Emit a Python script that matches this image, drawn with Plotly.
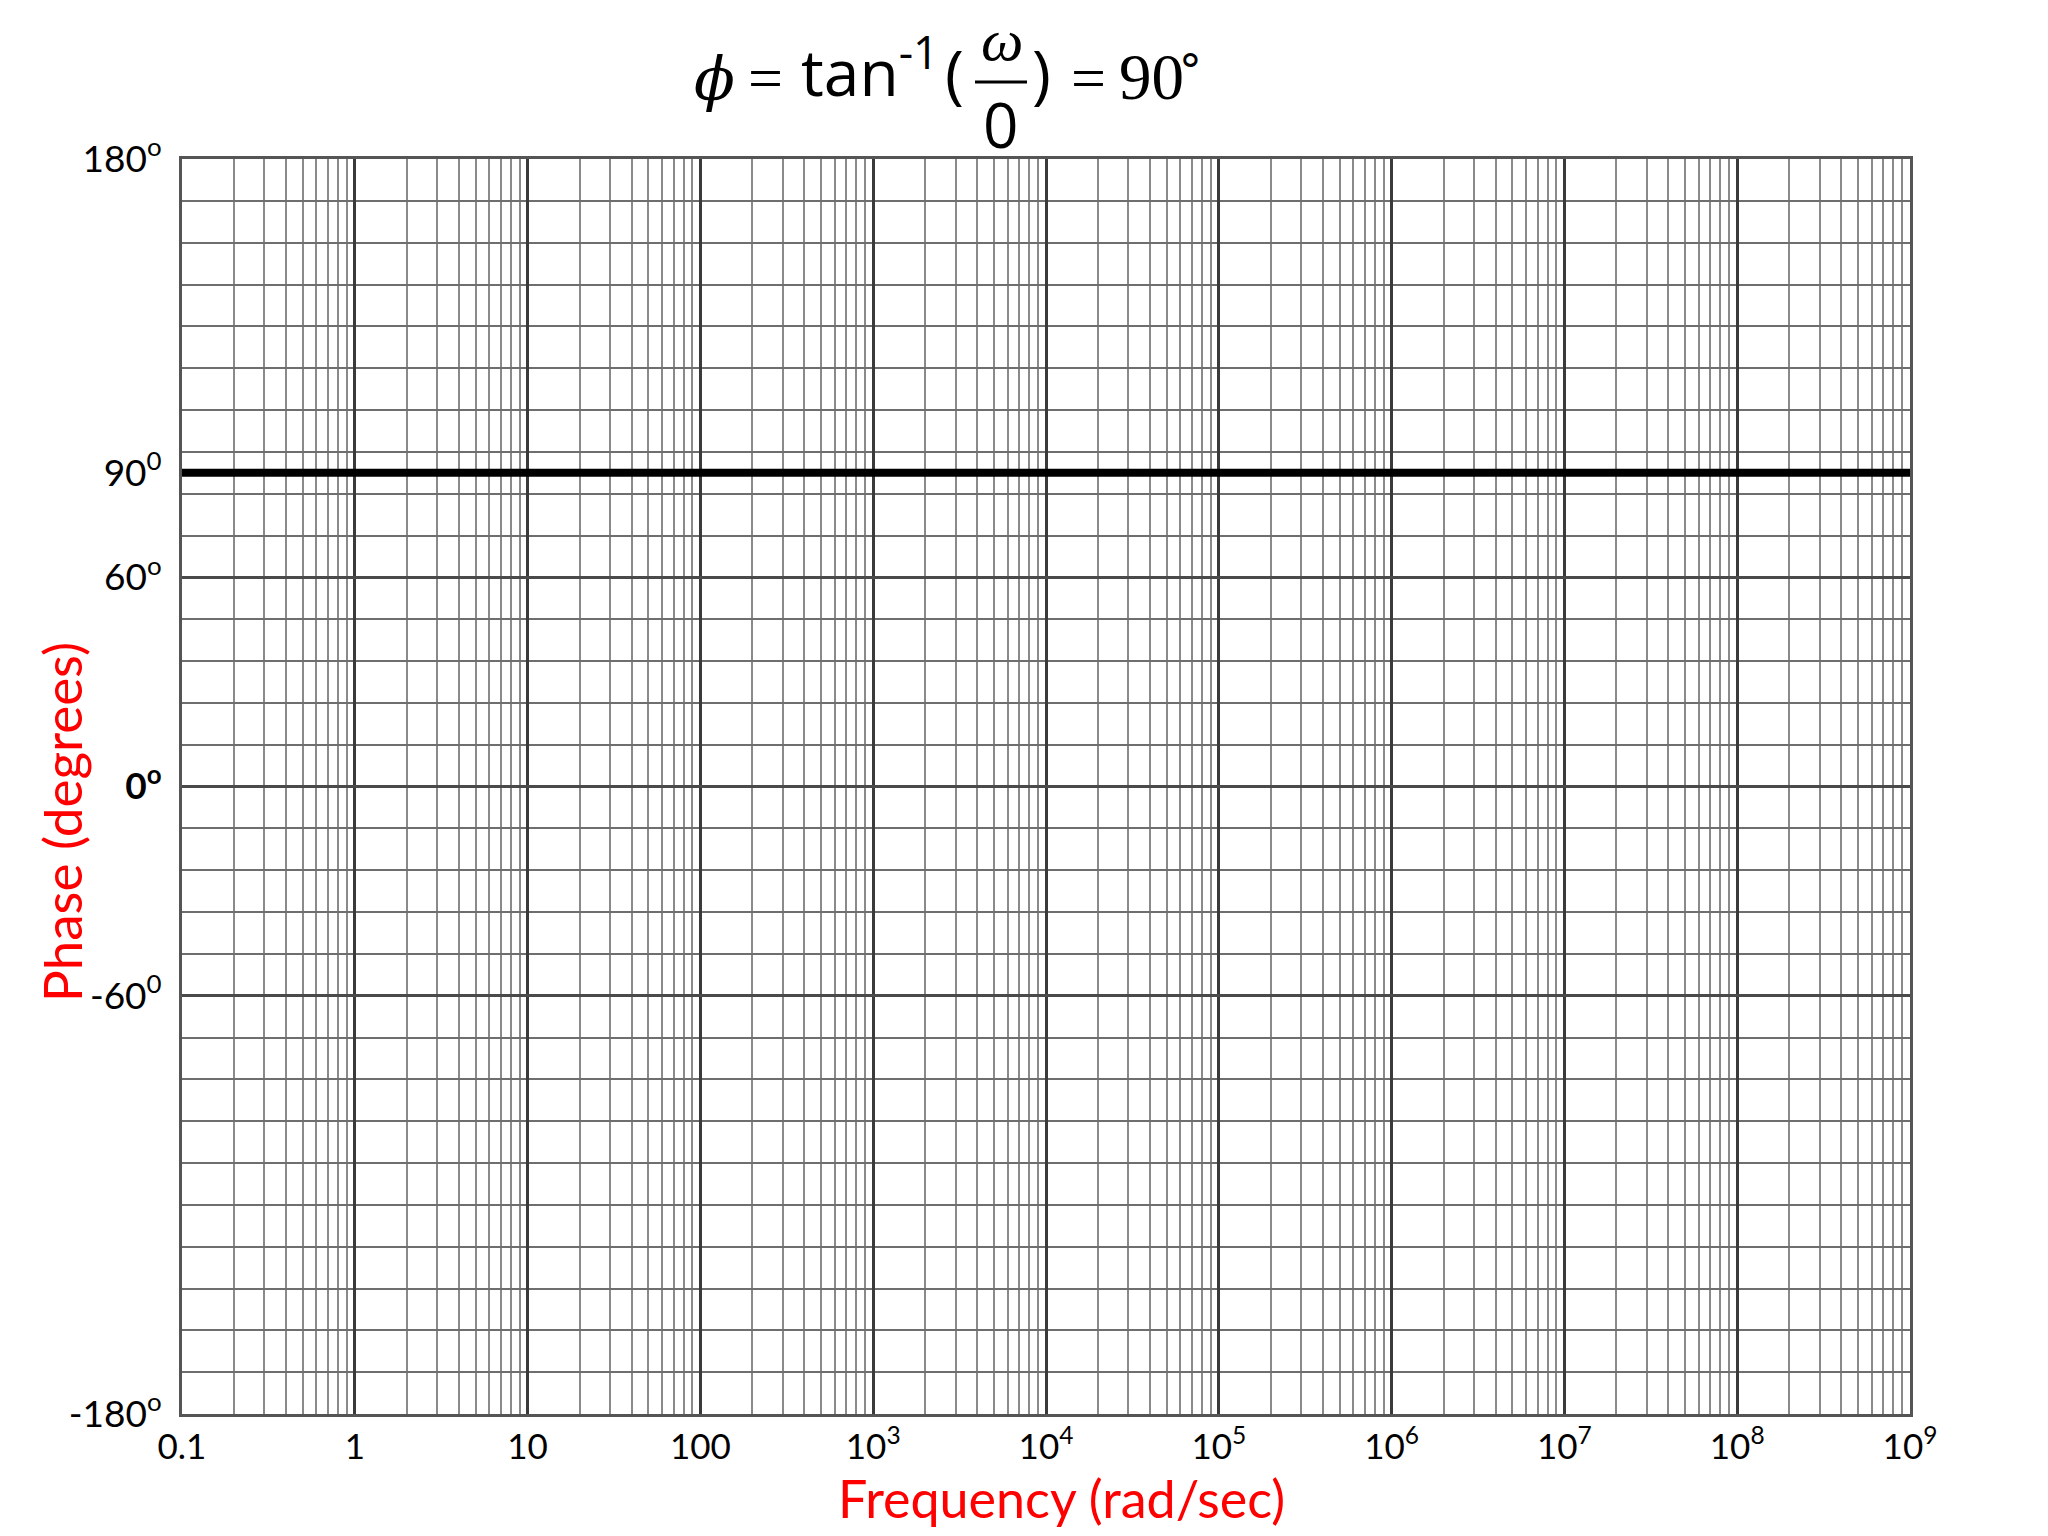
import plotly.graph_objects as go

# ---- data ----
x_tick_vals = [0.1, 1, 10, 100, 1e3, 1e4, 1e5, 1e6, 1e7, 1e8, 1e9]
x_tick_text = ["0.1", "1", "10", "100", "10<sup>3</sup>", "10<sup>4</sup>", "10<sup>5</sup>",
               "10<sup>6</sup>", "10<sup>7</sup>", "10<sup>8</sup>", "10<sup>9</sup>"]
y_tick_vals = [180, 90, 60, 0, -60, -180]
y_tick_text = ["180<sup>o</sup>", "90<sup>0</sup>", "60<sup>o</sup>", "<b>0<sup>o</sup></b>",
               "-60<sup>0</sup>", "-180<sup>o</sup>"]
phase_freq = [0.1, 1e9]
phase_deg = [90, 90]
minor_multipliers = [2, 3, 4, 5, 6, 7, 8, 9]
y_grid_step = 12

# figure geometry (page has an 8px body margin)
OFF = 8
W, H = 2032, 1528
L, R, T, B = 174, 130, 151, 122
PW, PH = W - L - R, H - T - B


def px(x):  # page pixel -> paper
    return (x - OFF - L) / PW


def py(y):
    return (H - B - (y - OFF)) / PH


x_minor = [m * d for d in x_tick_vals[:-1] for m in minor_multipliers]
y_minor = list(range(-180, 181, y_grid_step))

LATO = "Lato, Carlito, Calibri, sans-serif"
SERIF = "Liberation Serif, Times New Roman, serif"
SANS = "Open Sans, DejaVu Sans, sans-serif"

fig = go.Figure()
fig.add_trace(go.Scatter(x=phase_freq, y=phase_deg, mode="lines",
                         line=dict(color="black", width=8), showlegend=False,
                         hoverinfo="skip", cliponaxis=False))

fig.update_layout(
    width=W, height=H,
    margin=dict(l=L, r=R, t=T, b=B, autoexpand=False),
    paper_bgcolor="white", plot_bgcolor="white",
    showlegend=False,
    font=dict(family=LATO, color="black", size=36),
)

fig.update_xaxes(
    type="log", range=[-1, 9],
    tickmode="array", tickvals=x_tick_vals, ticktext=x_tick_text,
    tickfont=dict(family=LATO, size=35, color="black"),
    showgrid=True, gridcolor="#3a3a3a", gridwidth=2.5,
    minor=dict(tickmode="array", tickvals=x_minor, showgrid=True,
               gridcolor="#8a8a8a", gridwidth=2, ticks=""),
    showline=True, linecolor="#555555", linewidth=3, mirror=True,
    ticks="", ticklabelstandoff=0, zeroline=False,
)
fig.update_yaxes(
    range=[-180, 180],
    tickmode="array", tickvals=y_tick_vals, ticktext=y_tick_text,
    tickfont=dict(family=LATO, size=37, color="black"),
    showgrid=True, gridcolor="#4a4a4a", gridwidth=2.5,
    minor=dict(tickmode="array", tickvals=y_minor, showgrid=True,
               gridcolor="#6e6e6e", gridwidth=2, ticks=""),
    showline=True, linecolor="#555555", linewidth=3, mirror=True,
    ticks="", ticklabelstandoff=10, zeroline=False,
)


def txt(x, y, s, family, size, italic=False, angle=0, color="black"):
    fig.add_annotation(x=px(x), y=py(y), xref="paper", yref="paper", text=s,
                       showarrow=False, xanchor="center", yanchor="middle",
                       textangle=angle,
                       font=dict(family=family, size=size, color=color,
                                 style="italic" if italic else "normal"))


# axis titles
txt(1061, 1498, "Frequency (rad/sec)", LATO, 52, color="red")
txt(62, 822, "Phase (degrees)", LATO, 53, angle=-90, color="red")

# ---- title formula: phi = tan^-1(omega/0) = 90 deg ----
txt(714, 79, "ϕ", "DejaVu Serif", 60, italic=True)
txt(765, 78, "=", SERIF, 62)
txt(870, 68, "tan<sup>-1</sup>", SANS, 64)
txt(954, 72, "(", SANS, 64)
txt(1002, 40, "ω", SERIF, 60, italic=True)
txt(1000, 124, "0", SANS, 62)
txt(1041, 72, ")", SANS, 64)
txt(1088, 78, "=", SERIF, 62)
txt(1151, 77, "90", SERIF, 65)
txt(1190, 60, "∘", SERIF, 46)
fig.add_shape(type="line", xref="paper", yref="paper",
              x0=px(975), x1=px(1027), y0=py(82), y1=py(82),
              line=dict(color="black", width=3))

fig.write_html("out.html")
